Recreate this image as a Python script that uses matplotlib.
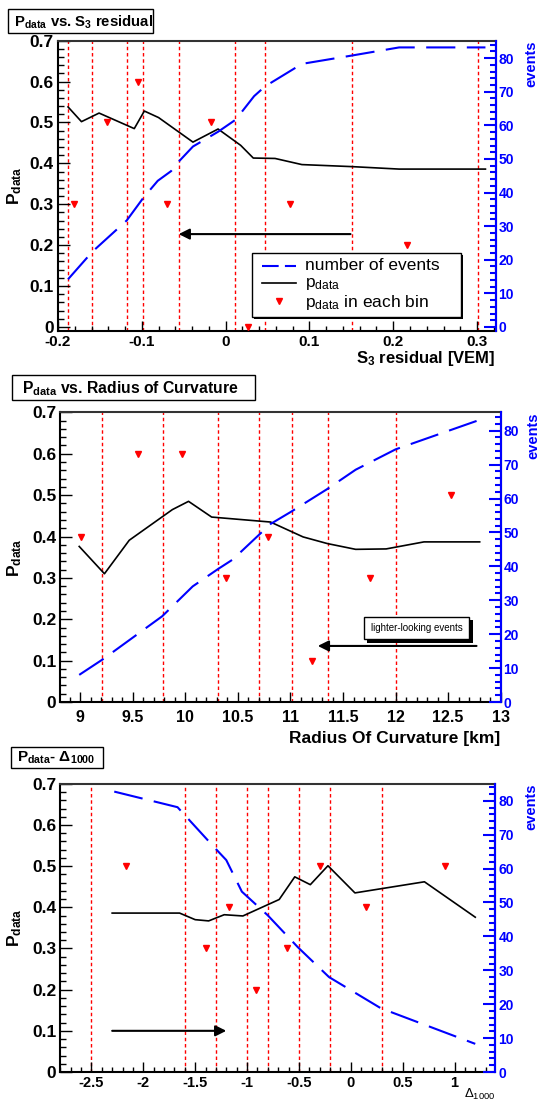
import matplotlib
matplotlib.use('Agg')
import matplotlib.pyplot as plt
from matplotlib.patches import Rectangle
from matplotlib.lines import Line2D
from matplotlib.ticker import MultipleLocator, FuncFormatter

# ---------------- data ----------------
# Panel 1: P_data vs S3 residual
p1_black_x = [-0.188, -0.172, -0.151, -0.109, -0.097, -0.080, -0.039, -0.009, 0.018, 0.033, 0.059, 0.091, 0.151, 0.207, 0.310]
p1_black_y = [0.538, 0.502, 0.523, 0.485, 0.528, 0.512, 0.452, 0.484, 0.444, 0.413, 0.412, 0.397, 0.392, 0.386, 0.386]
p1_blue_x = [-0.188, -0.159, -0.118, -0.098, -0.081, -0.065, -0.056, -0.039, -0.009, 0.012, 0.034, 0.047, 0.091, 0.151, 0.207, 0.310]
p1_blue_y = [14.2, 22.4, 31.7, 38.5, 43.5, 46.4, 49.2, 53.7, 58.1, 61.7, 68.7, 71.6, 78.3, 80.8, 83.2, 83.2]
p1_tri_x = [-0.181, -0.141, -0.105, -0.070, -0.018, 0.027, 0.077, 0.216]
p1_tri_y = [0.3, 0.5, 0.6, 0.3, 0.5, 0.0, 0.3, 0.2]
p1_vlines = [-0.188, -0.159, -0.118, -0.098, -0.056, 0.0115, 0.0465, 0.151, 0.301]

# Panel 2: P_data vs Radius of Curvature
p2_black_x = [8.99, 9.23, 9.466, 9.876, 10.03, 10.25, 10.81, 11.12, 11.35, 11.62, 11.91, 12.27, 12.80]
p2_black_y = [0.376, 0.310, 0.391, 0.465, 0.485, 0.447, 0.435, 0.399, 0.383, 0.369, 0.370, 0.387, 0.387]
p2_blue_x = [8.99, 9.22, 9.78, 10.07, 10.31, 10.45, 10.81, 11.0, 11.35, 11.62, 12.0, 12.80]
p2_blue_y = [8.0, 12.7, 25.3, 34.1, 39.2, 42.0, 52.5, 56.0, 62.8, 68.5, 74.5, 83.2]
p2_tri_x = [9.01, 9.55, 9.97, 10.39, 10.79, 11.20, 11.76, 12.53]
p2_tri_y = [0.4, 0.6, 0.6, 0.3, 0.4, 0.1, 0.3, 0.5]
p2_vlines = [9.21, 9.79, 10.31, 10.70, 11.01, 11.36, 12.00]

# Panel 3: P_data vs Delta_1000
p3_black_x = [-2.30, -1.65, -1.50, -1.37, -1.22, -1.04, -0.69, -0.54, -0.39, -0.22, 0.04, 0.71, 1.20]
p3_black_y = [0.386, 0.386, 0.370, 0.367, 0.382, 0.379, 0.419, 0.474, 0.455, 0.501, 0.435, 0.462, 0.376]
p3_blue_x = [-2.28, -1.67, -1.32, -1.20, -1.05, -0.80, -0.51, -0.21, 0.29, 1.20]
p3_blue_y = [82.7, 78.1, 66.4, 62.5, 53.2, 46.2, 36.8, 28.0, 18.8, 8.3]
p3_tri_x = [-2.17, -1.40, -1.17, -0.915, -0.61, -0.30, 0.15, 0.91]
p3_tri_y = [0.5, 0.3, 0.4, 0.2, 0.3, 0.5, 0.4, 0.5]
p3_vlines = [-2.5, -1.6, -1.3, -1.0, -0.8, -0.5, -0.2, 0.3]

# ---------------- style ----------------
plt.rcParams['font.family'] = ['Liberation Sans', 'DejaVu Sans']
plt.rcParams['mathtext.fontset'] = 'custom'
plt.rcParams['mathtext.rm'] = 'Liberation Sans'
plt.rcParams['mathtext.bf'] = 'Liberation Sans:bold'
plt.rcParams['mathtext.it'] = 'Liberation Sans:italic'
plt.rcParams['mathtext.sf'] = 'Liberation Sans'

W, H = 541, 1100
fig = plt.figure(figsize=(W / 100, H / 100), dpi=100)


def fx(px):
    return px / W


def fy(py):
    return 1 - py / H


def gfmt(v, pos):
    s = '{:g}'.format(round(v, 6))
    return '0' if s in ('-0', '0') else s


BLUE = '#0000ff'
RED = '#ff0000'


def make_panel(l, r, t, b, xlim, ylim, xmaj, xmin_, rlim, bx, by, ex, ey, tx, ty, vl,
               xtick_fs=10.5, rtick_fs=10, xpad=3.5):
    ax = fig.add_axes([fx(l), fy(b), (r - l) / W, (b - t) / H])
    ax.set_xlim(*xlim)
    ax.set_ylim(*ylim)
    for x in vl:
        ax.axvline(x, color=RED, lw=1.0, ls=(0, (2.5, 2)), zorder=1)
    ax.plot(bx, by, color='k', lw=1.2, zorder=3)
    ax.plot(tx, ty, ls='none', marker='v', color=RED, ms=5, zorder=4)
    ax.xaxis.set_major_locator(MultipleLocator(xmaj))
    ax.xaxis.set_minor_locator(MultipleLocator(xmin_))
    ax.yaxis.set_major_locator(MultipleLocator(0.1))
    ax.yaxis.set_minor_locator(MultipleLocator(0.02))
    ax.xaxis.set_major_formatter(FuncFormatter(gfmt))
    ax.yaxis.set_major_formatter(FuncFormatter(gfmt))
    ax.tick_params(axis='y', which='major', direction='in', length=8.5, width=1.0,
                   labelsize=12.5, pad=3)
    ax.tick_params(axis='y', which='minor', direction='in', length=4.2, width=1.0)
    ax.tick_params(axis='x', which='major', direction='in', length=7, width=1.0,
                   labelsize=xtick_fs, pad=xpad)
    ax.tick_params(axis='x', which='minor', direction='in', length=3.5, width=1.0)
    ax.tick_params(right=False, top=False, which='both')
    for lab in ax.get_xticklabels() + ax.get_yticklabels():
        lab.set_fontweight('bold')
    for s in ax.spines.values():
        s.set_linewidth(1.5)
    ax.spines['top'].set_color('#333333')

    ax2 = ax.twinx()
    ax2.set_ylim(*rlim)
    ax2.plot(ex, ey, color=BLUE, lw=1.5, dashes=(14, 5.5), zorder=3)
    ax2.yaxis.set_major_locator(MultipleLocator(10))
    ax2.yaxis.set_minor_locator(MultipleLocator(2))
    ax2.yaxis.set_major_formatter(FuncFormatter(gfmt))
    ax2.tick_params(axis='y', which='major', direction='in', length=9, width=1.5,
                    colors=BLUE, labelsize=rtick_fs, pad=2)
    ax2.tick_params(axis='y', which='minor', direction='in', length=4.5, width=1.5,
                    colors=BLUE)
    for lab in ax2.get_yticklabels():
        lab.set_fontweight('bold')
    ax2.spines['right'].set_color(BLUE)
    ax2.spines['right'].set_linewidth(1.5)
    for k in ('left', 'top', 'bottom'):
        ax2.spines[k].set_visible(False)
    return ax, ax2


def title_box(x0, x1, y0, y1, text, tx, fs=11):
    fig.add_artist(Rectangle((fx(x0), fy(y1)), (x1 - x0) / W, (y1 - y0) / H,
                             transform=fig.transFigure, facecolor='white',
                             edgecolor='black', lw=1.0))
    fig.text(fx(tx), fy((y0 + y1) / 2 + 1), text, ha='left', va='center',
             fontsize=fs, fontweight='bold')


def side_labels(t, b, r_lab_x, ev_fs=10.5):
    fig.text(fx(15), fy((t + b) / 2), r'$\mathbf{P_{data}}$', rotation=90,
             ha='center', va='center', fontsize=12.5)
    fig.text(fx(r_lab_x), fy(t), 'events', rotation=90, ha='center', va='top',
             color=BLUE, fontweight='bold', fontsize=ev_fs)


# ---------------- Panel 1 ----------------
t1, b1 = 40.7, 331
ax1, ax1r = make_panel(58, 495.5, t1, b1, (-0.2, 0.322), (-0.01, 0.7), 0.1, 0.02, (-1.2, 85.2),
                       p1_black_x, p1_black_y, p1_blue_x, p1_blue_y,
                       p1_tri_x, p1_tri_y, p1_vlines, xtick_fs=11, xpad=3)
ax1.annotate('', xy=(-0.056, 0.227), xytext=(0.149, 0.227),
             arrowprops=dict(arrowstyle='-|>', color='k', lw=1.5,
                             mutation_scale=16, shrinkA=0, shrinkB=0), zorder=5)
title_box(7.6, 153.4, 8.6, 33.4, r'$\mathbf{P_{data}}$ vs. $\mathbf{S_{3}}$ residual', 13.5, fs=10.7)
side_labels(t1, b1, 531)
fig.text(fx(495), fy(358), r'$\mathbf{S_{3}}$ residual [VEM]', ha='right', va='center',
         fontsize=12, fontweight='bold')

# legend for panel 1 (drawn manually)
lx0, lx1, ly0, ly1 = 251.7, 461.4, 252.8, 317.2
fig.add_artist(Rectangle((fx(lx0 + 2), fy(ly1 + 2)), (lx1 - lx0) / W, (ly1 - ly0) / H,
                         transform=fig.transFigure, facecolor='black', lw=0))
fig.add_artist(Rectangle((fx(lx0), fy(ly1)), (lx1 - lx0) / W, (ly1 - ly0) / H,
                         transform=fig.transFigure, facecolor='white',
                         edgecolor='black', lw=1.0))
rows = [265.5, 284.0, 302.0]
fig.add_artist(Line2D([fx(262), fx(296)], [fy(rows[0])] * 2, transform=fig.transFigure,
                      color=BLUE, lw=1.5, dashes=(8, 3)))
fig.add_artist(Line2D([fx(262), fx(296)], [fy(rows[1] - 1)] * 2, transform=fig.transFigure,
                      color='k', lw=1.2))
fig.add_artist(Line2D([fx(279)], [fy(rows[2] - 1)], transform=fig.transFigure,
                      color=RED, marker='v', ms=5, ls='none'))
fig.text(fx(305), fy(rows[0]), 'number of events', ha='left', va='center', fontsize=12.5)
fig.text(fx(305), fy(rows[1]), r'$\mathrm{p_{data}}$', ha='left', va='center', fontsize=12.5)
fig.text(fx(305), fy(rows[2]), r'$\mathrm{p_{data}}$ in each bin', ha='left', va='center',
         fontsize=12.5)

# ---------------- Panel 2 ----------------
t2, b2 = 412.4, 702
ax2_, ax2r = make_panel(60.3, 500.7, t2, b2, (8.81, 13.0), (0, 0.7), 0.5, 0.1, (0, 85.4),
                        p2_black_x, p2_black_y, p2_blue_x, p2_blue_y,
                        p2_tri_x, p2_tri_y, p2_vlines, xtick_fs=11.5, xpad=5.5)
ax2_.annotate('', xy=(11.26, 0.1355), xytext=(12.77, 0.1355),
              arrowprops=dict(arrowstyle='-|>', color='k', lw=1.5,
                              mutation_scale=16, shrinkA=0, shrinkB=0), zorder=5)
title_box(12, 255, 375.5, 399.7, r'$\mathbf{P_{data}}$ vs. Radius of Curvature', 22.4, fs=11.3)
side_labels(t2, b2, 533)
fig.text(fx(500), fy(739), 'Radius Of Curvature [km]', ha='right', va='center',
         fontsize=12.5, fontweight='bold')
bx0, bx1, by0, by1 = 363.8, 469, 616.6, 639
fig.add_artist(Rectangle((fx(bx0 + 3.5), fy(by1 + 3.5)), (bx1 - bx0) / W, (by1 - by0) / H,
                         transform=fig.transFigure, facecolor='black', lw=0))
fig.add_artist(Rectangle((fx(bx0), fy(by1)), (bx1 - bx0) / W, (by1 - by0) / H,
                         transform=fig.transFigure, facecolor='white',
                         edgecolor='black', lw=1.0))
fig.text(fx((bx0 + bx1) / 2), fy((by0 + by1) / 2), 'lighter-looking events',
         ha='center', va='center', fontsize=7)

# ---------------- Panel 3 ----------------
t3, b3 = 783.8, 1072
ax3, ax3r = make_panel(60.3, 495.5, t3, b3, (-2.8, 1.395), (0, 0.7), 0.5, 0.1, (0, 85.0),
                       p3_black_x, p3_black_y, p3_blue_x, p3_blue_y,
                       p3_tri_x, p3_tri_y, p3_vlines, xtick_fs=10.5, xpad=3)
ax3.annotate('', xy=(-1.20, 0.1), xytext=(-2.30, 0.1),
             arrowprops=dict(arrowstyle='-|>', color='k', lw=1.5,
                             mutation_scale=16, shrinkA=0, shrinkB=0), zorder=5)
title_box(11, 103.4, 746.9, 767.6, r'$\mathbf{P_{data}}$- $\mathbf{Δ_{1000}}$', 17)
side_labels(t3, b3, 531)
fig.text(fx(495), fy(1094), r'$\mathrm{Δ_{1000}}$', ha='right', va='center', fontsize=9.5)

fig.savefig('out.png', dpi=100)
